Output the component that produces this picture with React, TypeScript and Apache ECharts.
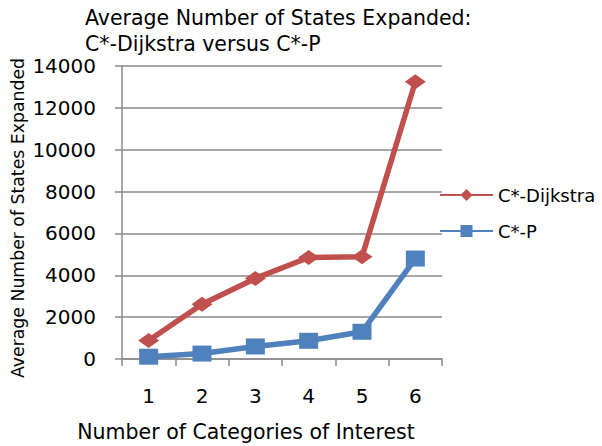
import React, { useEffect, useRef } from "react";
import * as echarts from "echarts";

const categories = ["1", "2", "3", "4", "5", "6"];
const dijkstraValues = [880, 2620, 3850, 4850, 4880, 13250];
const cStarPValues = [110, 260, 600, 870, 1300, 4800];
const titleLines = ["Average Number of States Expanded:", "C*-Dijkstra versus C*-P"];
const xAxisTitle = "Number of Categories of Interest";
const yAxisTitle = "Average Number of States Expanded";

const FONT = "'DejaVu Sans', sans-serif";
const GRID_COLOR = "#8a8a8a";

export default function App() {
  const ref = useRef<HTMLDivElement>(null);

  useEffect(() => {
    if (!ref.current) return;
    const chart = echarts.init(ref.current, null, { renderer: "svg" });
    chart.setOption({
      animation: false,
      backgroundColor: "#ffffff",
      textStyle: { fontFamily: FONT, color: "#000" },
      grid: { left: 122, right: 160, top: 66, bottom: 87, containLabel: false },
      graphic: [
        {
          type: "text",
          left: 85,
          top: 5,
          style: {
            text: titleLines.join("\n"),
            font: `20.5px ${FONT}`,
            lineHeight: 26,
            fill: "#000",
          },
        },
        {
          type: "text",
          x: 246,
          y: 432,
          style: {
            text: xAxisTitle,
            font: `20.5px ${FONT}`,
            fill: "#000",
            align: "center",
            verticalAlign: "middle",
          },
        },
        {
          type: "text",
          x: 18,
          y: 218,
          rotation: Math.PI / 2,
          style: {
            text: yAxisTitle,
            font: `17.3px ${FONT}`,
            fill: "#000",
            align: "center",
            verticalAlign: "middle",
          },
        },
      ],
      legend: {
        orient: "vertical",
        left: 434,
        top: 181,
        itemWidth: 53,
        itemHeight: 15,
        itemGap: 18,
        textStyle: { fontFamily: FONT, fontSize: 18, color: "#000" },
        data: ["C*-Dijkstra", "C*-P"],
      },
      xAxis: {
        type: "category",
        data: categories,
        boundaryGap: true,
        axisLine: { lineStyle: { color: GRID_COLOR, width: 1.5 } },
        axisTick: { show: true, length: 7, lineStyle: { color: GRID_COLOR, width: 1.5 } },
        axisLabel: { fontFamily: FONT, fontSize: 20, color: "#000", margin: 27 },
        splitLine: { show: false },
      },
      yAxis: {
        type: "value",
        min: 0,
        max: 14000,
        interval: 2000,
        axisLine: { show: true, lineStyle: { color: GRID_COLOR, width: 1.5 } },
        axisTick: { show: true, length: 7, lineStyle: { color: GRID_COLOR, width: 1.5 } },
        axisLabel: {
          fontFamily: FONT,
          fontSize: 20,
          color: "#000",
          margin: 26,
          formatter: (v: number) => String(v),
        },
        splitLine: { show: true, lineStyle: { color: GRID_COLOR, width: 1.5 } },
      },
      series: [
        {
          name: "C*-Dijkstra",
          type: "line",
          data: dijkstraValues,
          symbol: "diamond",
          symbolSize: [21, 15],
          lineStyle: { color: "#C0504D", width: 5.5 },
          itemStyle: { color: "#C0504D" },
        },
        {
          name: "C*-P",
          type: "line",
          data: cStarPValues,
          symbol: "rect",
          symbolSize: [19, 16],
          lineStyle: { color: "#4F81BD", width: 5.5 },
          itemStyle: { color: "#4F81BD" },
        },
      ],
    });
    return () => chart.dispose();
  }, []);

  return <div ref={ref} style={{ width: 602, height: 446, position: "absolute", left: 0, top: 0 }} />;
}
